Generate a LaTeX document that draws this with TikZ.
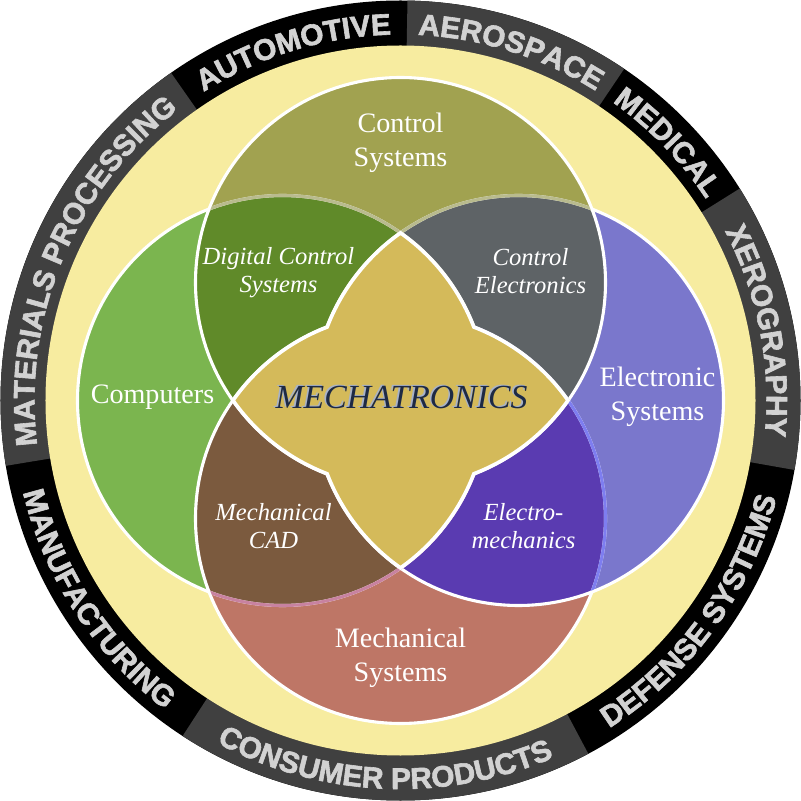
\documentclass[tikz,border=0pt]{standalone}
\usepackage{fontspec}
\setmainfont{Liberation Serif}
\newfontfamily\ringfont{Liberation Sans}[UprightFont={* Bold}, FakeBold=2]
\usetikzlibrary{decorations.text}
\definecolor{ringgray}{HTML}{404040}
\definecolor{ringtext}{HTML}{D2D2D2}
\definecolor{discyellow}{HTML}{F7ECA0}
\definecolor{ctrlolive}{HTML}{A1A250}
\definecolor{compgreen}{HTML}{7BB54F}
\definecolor{elecblue}{HTML}{7A77CC}
\definecolor{mechred}{HTML}{BE7666}
\definecolor{dcsgreen}{HTML}{608A29}
\definecolor{cegray}{HTML}{5E6366}
\definecolor{cadbrown}{HTML}{7B5A3E}
\definecolor{emviolet}{HTML}{5A3BB1}
\definecolor{mechagold}{HTML}{D4BA5A}
\definecolor{mechanavy}{HTML}{1E2A44}
\definecolor{mechashade}{HTML}{A8B2C8}
\definecolor{faintolive}{HTML}{B9BB8E}
\definecolor{faintmauve}{HTML}{C882A0}
\definecolor{faintblue}{HTML}{7E7EF0}
\begin{document}
\begin{tikzpicture}[x=0.025cm, y=0.025cm]
    \tikzset{
        edge/.style={draw=white, line width=2.2pt},
        seam/.style={line width=2.2pt},
        area/.style={text=white, align=center, font=\fontsize{20}{24}\selectfont},
        overlap/.style={text=white, align=center, font=\itshape\fontsize{17.5}{20}\selectfont},
        ringlabel/.style={decorate, decoration={text along path, text align=center, text color=ringtext,
            text={|\ringfont\fontsize{21.2}{24}\selectfont|#1}}}
    }
    \useasboundingbox (-400.5,-400.5) rectangle (400.5,400.5);

    \fill[black] (0,0) circle[radius=400];
    \fill[ringgray] (0,0) -- (125:400) arc[start angle=125, end angle=189.4, radius=400] -- cycle;
    \fill[ringgray] (0,0) -- (56:400) arc[start angle=56, end angle=89, radius=400] -- cycle;
    \fill[ringgray] (0,0) -- (-10:400) arc[start angle=-10, end angle=32, radius=400] -- cycle;
    \fill[ringgray] (0,0) -- (-123:400) arc[start angle=-123, end angle=-62, radius=400] -- cycle;

    \path[ringlabel=MATERIALS PROCESSING] (189.4:366) arc[start angle=189.4, end angle=125, radius=366];
    \path[ringlabel=AUTOMOTIVE] (125:366) arc[start angle=125, end angle=89, radius=366];
    \path[ringlabel=AEROSPACE] (89:366) arc[start angle=89, end angle=56, radius=366];
    \path[ringlabel=MEDICAL] (56:366) arc[start angle=56, end angle=32, radius=366];
    \path[ringlabel=XEROGRAPHY] (32:366) arc[start angle=32, end angle=-10, radius=366];
    \path[ringlabel=DEFENSE SYSTEMS] (-62:388.5) arc[start angle=-62, end angle=-10, radius=388.5];
    \path[ringlabel=CONSUMER PRODUCTS] (-123:388.5) arc[start angle=-123, end angle=-62, radius=388.5];
    \path[ringlabel=MANUFACTURING] (-170.6:388.5) arc[start angle=-170.6, end angle=-123, radius=388.5];

    \fill[discyellow] (0,0) circle[radius=355];
    \fill[ctrlolive] (0,118) circle[radius=205];
    \fill[compgreen] (-118,0) circle[radius=205];
    \fill[elecblue] (118,0) circle[radius=205];
    \fill[mechred] (0,-118) circle[radius=205];
    \begin{scope}
        \clip (0,118) circle[radius=205];
        \fill[dcsgreen] (-118,0) circle[radius=205];
        \fill[cegray] (118,0) circle[radius=205];
    \end{scope}
    \begin{scope}
        \clip (0,-118) circle[radius=205];
        \fill[cadbrown] (-118,0) circle[radius=205];
        \fill[emviolet] (118,0) circle[radius=205];
    \end{scope}

    \draw[edge] (0,118) circle[radius=205];
    \draw[edge] (-118,0) circle[radius=205];
    \draw[edge] (118,0) circle[radius=205];
    \draw[edge] (0,-118) circle[radius=205];
    \begin{scope}
        \clip (0,118) circle[radius=203.5];
        \draw[seam, faintolive] (-118,0) circle[radius=205];
        \draw[seam, faintolive] (118,0) circle[radius=205];
    \end{scope}
    \begin{scope}
        \clip (0,-118) circle[radius=203.5];
        \draw[seam, faintmauve] (-118,0) circle[radius=205];
    \end{scope}
    \begin{scope}
        \clip (118,0) circle[radius=203.5];
        \draw[seam, faintblue] (0,-118) circle[radius=205];
    \end{scope}

    \filldraw[fill=mechagold, draw=white, line width=2.6pt] (0,167.6)
        arc[start angle=125.15, end angle=159.0, radius=205]
        arc[start angle=111.0, end angle=144.85, radius=205]
        arc[start angle=215.15, end angle=249.0, radius=205]
        arc[start angle=201.0, end angle=234.85, radius=205]
        arc[start angle=-54.85, end angle=-21.0, radius=205]
        arc[start angle=-69.0, end angle=-35.15, radius=205]
        arc[start angle=35.15, end angle=69.0, radius=205]
        arc[start angle=21.0, end angle=54.85, radius=205] -- cycle;

    \node[area] (ctrl) at (0,258) {Control\\Systems};
    \node[area] (comp) at (-248,3) {Computers};
    \node[area] (elec) at (257,4) {Electronic\\Systems};
    \node[area] (mech) at (0,-257) {Mechanical\\Systems};
    \node[overlap] (dcs) at (-122,128) {Digital Control\\Systems};
    \node[overlap] (ce) at (130,129) {Control\\Electronics};
    \node[overlap] (cad) at (-127,-126) {Mechanical\\CAD};
    \node[overlap] (em) at (123,-126) {Electro-\\mechanics};
    \node[text=mechashade, font=\itshape\fontsize{24}{28}\selectfont] (mechashadow) at (-0.6,3.8) {MECHATRONICS};
    \node[text=mechanavy, font=\itshape\fontsize{24}{28}\selectfont] (mecha) at (1,3) {MECHATRONICS};
\end{tikzpicture}
\end{document}
